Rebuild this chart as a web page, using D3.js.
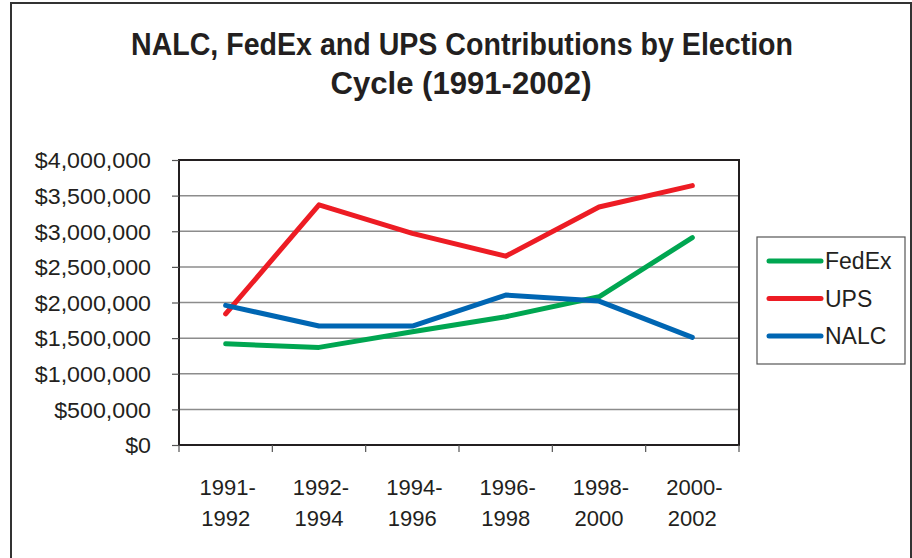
<!DOCTYPE html>
<html><head><meta charset="utf-8">
<script src="https://cdn.jsdelivr.net/npm/d3@7"></script>
<style>body{margin:0;background:#fff}svg{display:block}</style>
</head><body>
<svg id="c" width="912" height="558"></svg>
<script>
const categories = [["1991-","1992"],["1992-","1994"],["1994-","1996"],["1996-","1998"],["1998-","2000"],["2000-","2002"]];
const fedex = [1420000, 1370000, 1590000, 1800000, 2080000, 2910000];
const ups   = [1840000, 3370000, 2970000, 2650000, 3340000, 3640000];
const nalc  = [1960000, 1670000, 1670000, 2105000, 2020000, 1510000];
const yTicks = [0,500000,1000000,1500000,2000000,2500000,3000000,3500000,4000000];
const seriesNames = ["FedEx","UPS","NALC"];
const seriesColors = ["#00a651","#ed1c24","#0066b3"];
const seriesData = [fedex, ups, nalc];

const svg = d3.select("#c");
const font = "'Liberation Sans', Arial, sans-serif";
const L = 179, R = 739, T = 160, B = 445;

// outer frame
svg.append("path").attr("d","M11,558 V3 H911 V558").attr("fill","none").attr("stroke","#333").attr("stroke-width",2);

// title
const title = svg.append("g").attr("font-family",font).attr("font-weight","bold").attr("font-size",31).attr("fill","#231f20").attr("text-anchor","middle");
title.append("text").attr("x",462).attr("y",55).attr("textLength",662).attr("lengthAdjust","spacingAndGlyphs").text("NALC, FedEx and UPS Contributions by Election");
title.append("text").attr("x",461).attr("y",94).attr("textLength",261).attr("lengthAdjust","spacingAndGlyphs").text("Cycle (1991-2002)");

const x = d3.scaleBand().domain(d3.range(categories.length)).range([L,R]);
const y = d3.scaleLinear().domain([0,4000000]).range([B,T]);

// gridlines
svg.append("g").selectAll("line").data(yTicks.slice(1)).join("line")
  .attr("x1",L).attr("x2",R).attr("y1",d=>y(d)).attr("y2",d=>y(d))
  .attr("stroke","#8c8c8c").attr("stroke-width",1.5);

// plot border
svg.append("rect").attr("x",L).attr("y",T).attr("width",R-L).attr("height",B-T).attr("fill","none").attr("stroke","#231f20").attr("stroke-width",2);

// y axis
const yAxis = d3.axisLeft(y).tickValues(yTicks).tickSize(7).tickPadding(21)
  .tickFormat(d=>"$"+d3.format(",")(d));
const ya = svg.append("g").attr("transform",`translate(${L},0)`).call(yAxis);
ya.select(".domain").remove();
ya.selectAll(".tick line").attr("stroke","#555").attr("stroke-width",1.2);
ya.selectAll(".tick text").attr("font-family",font).attr("font-size",21.5).attr("fill","#231f20").attr("dy","0.36em")
  .attr("textLength",function(){return this.getComputedTextLength()*1.08;}).attr("lengthAdjust","spacingAndGlyphs");

// x axis ticks at boundaries
const bounds = d3.range(categories.length+1).map(i=> i<categories.length ? x(i) : R);
svg.append("g").selectAll("line").data(bounds).join("line")
  .attr("x1",d=>d).attr("x2",d=>d).attr("y1",B).attr("y2",B+7).attr("stroke","#555").attr("stroke-width",1.2);
const xl = svg.append("g").attr("font-family",font).attr("font-size",22).attr("fill","#231f20").attr("text-anchor","middle");
categories.forEach((c,i)=>{
  const t = xl.append("text").attr("x",x(i)+x.bandwidth()/2 + 2).attr("y",495);
  t.append("tspan").attr("x",x(i)+x.bandwidth()/2 + 2).text(c[0]);
  t.append("tspan").attr("x",x(i)+x.bandwidth()/2).attr("dy",31).text(c[1]);
});

// lines
const line = d3.line().x((d,i)=>x(i)+x.bandwidth()/2).y(d=>y(d));
seriesData.forEach((s,k)=>{
  svg.append("path").datum(s).attr("d",line).attr("fill","none").attr("stroke",seriesColors[k])
    .attr("stroke-width",5).attr("stroke-linecap","round").attr("stroke-linejoin","round");
});

// legend
const lg = svg.append("g");
lg.append("rect").attr("x",757).attr("y",237).attr("width",148).attr("height",127).attr("fill","none").attr("stroke","#555").attr("stroke-width",1.2);
seriesNames.forEach((n,k)=>{
  const yy = 261 + k*37.5;
  lg.append("line").attr("x1",769).attr("x2",821).attr("y1",yy).attr("y2",yy).attr("stroke",seriesColors[k]).attr("stroke-width",5).attr("stroke-linecap","round");
  lg.append("text").attr("x",825).attr("y",yy).attr("dy","0.36em").attr("font-family",font).attr("font-size",23).attr("fill","#231f20").text(n);
});
</script>
</body></html>
